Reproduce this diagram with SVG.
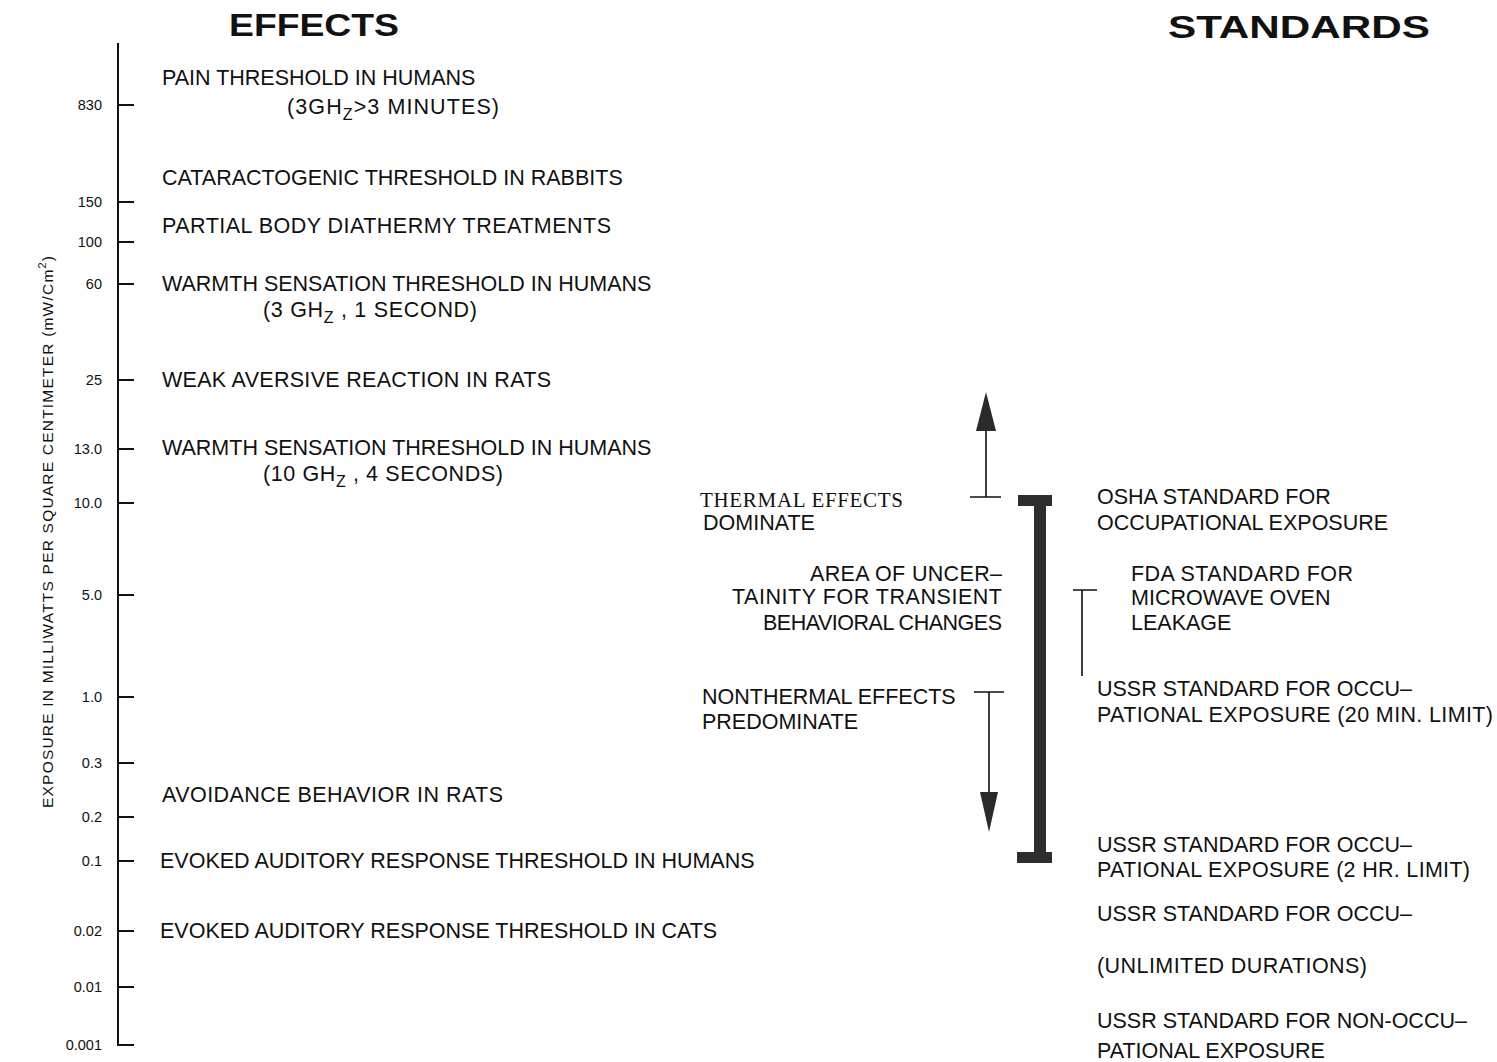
<svg xmlns="http://www.w3.org/2000/svg" width="1497" height="1062" viewBox="0 0 1497 1062">
  <style>
    .t { font-family: "Liberation Sans", Arial, sans-serif; font-size: 21.5px; fill: #111; }
    .ts { font-family: "Liberation Serif", "Times New Roman", serif; font-size: 21px; fill: #111; }
    .sub { font-size: 16px; }
    .hd { font-family: "Liberation Sans", Arial, sans-serif; font-size: 31px; font-weight: bold; fill: #111; }
    .tick { font-family: "Liberation Sans", Arial, sans-serif; font-size: 14.5px; fill: #111; text-anchor: end; }
    .ax { font-family: "Liberation Sans", Arial, sans-serif; font-size: 15.5px; fill: #111; }
    .ln { stroke: #111; stroke-width: 2; fill: none; }
    .thin { stroke: #111; stroke-width: 1.6; fill: none; }
    .bar { fill: #2e2e2e; }
    .head { fill: #2a2a2a; }
  </style>
  <rect width="1497" height="1062" fill="#ffffff"/>

  <!-- column headings -->
  <text class="hd" x="229" y="36" textLength="170" lengthAdjust="spacingAndGlyphs">EFFECTS</text>
  <text class="hd" x="1168" y="38" textLength="262" lengthAdjust="spacingAndGlyphs">STANDARDS</text>

  <!-- exposure axis -->
  <g id="axis">
    <path class="ln" d="M118 43 V1045 H134"/>
    <path class="ln" d="M118 105 H134 M118 202 H134 M118 242 H134 M118 284 H134 M118 380 H134 M118 449 H134 M118 503 H134 M118 595 H134 M118 697 H134 M118 763 H134 M118 817 H134 M118 861 H134 M118 931 H134 M118 987 H134"/>
    <text class="tick" x="102" y="110">830</text>
    <text class="tick" x="102" y="207">150</text>
    <text class="tick" x="102" y="247">100</text>
    <text class="tick" x="102" y="289">60</text>
    <text class="tick" x="102" y="385">25</text>
    <text class="tick" x="102" y="454">13.0</text>
    <text class="tick" x="102" y="508">10.0</text>
    <text class="tick" x="102" y="600">5.0</text>
    <text class="tick" x="102" y="702">1.0</text>
    <text class="tick" x="102" y="768">0.3</text>
    <text class="tick" x="102" y="822">0.2</text>
    <text class="tick" x="102" y="866">0.1</text>
    <text class="tick" x="102" y="936">0.02</text>
    <text class="tick" x="102" y="992">0.01</text>
    <text class="tick" x="102" y="1050">0.001</text>
    <text class="ax" transform="rotate(-90)" x="-808" y="53" textLength="552" lengthAdjust="spacing">EXPOSURE IN MILLIWATTS PER SQUARE CENTIMETER (mW/Cm<tspan dy="-7" font-size="11">2</tspan><tspan dy="7">)</tspan></text>
  </g>

  <!-- biological effects -->
  <g id="effects">
    <text class="t" x="162" y="85">PAIN THRESHOLD IN HUMANS</text>
    <text class="t" x="287" y="114" textLength="212" lengthAdjust="spacing">(3GH<tspan class="sub" dy="6">Z</tspan><tspan dy="-6">&gt;3 MINUTES)</tspan></text>
    <text class="t" x="162" y="185">CATARACTOGENIC THRESHOLD IN RABBITS</text>
    <text class="t" x="162" y="233" textLength="449" lengthAdjust="spacing">PARTIAL BODY DIATHERMY TREATMENTS</text>
    <text class="t" x="162" y="291">WARMTH SENSATION THRESHOLD IN HUMANS</text>
    <text class="t" x="263" y="317" textLength="214" lengthAdjust="spacing">(3 GH<tspan class="sub" dy="6">Z</tspan><tspan dy="-6"> ,  1 SECOND)</tspan></text>
    <text class="t" x="162" y="387" textLength="389" lengthAdjust="spacing">WEAK AVERSIVE REACTION IN RATS</text>
    <text class="t" x="162" y="455">WARMTH SENSATION THRESHOLD IN HUMANS</text>
    <text class="t" x="263" y="481" textLength="240" lengthAdjust="spacing">(10 GH<tspan class="sub" dy="6">Z</tspan><tspan dy="-6"> ,  4 SECONDS)</tspan></text>
    <text class="t" x="162" y="802" textLength="341" lengthAdjust="spacing">AVOIDANCE BEHAVIOR IN RATS</text>
    <text class="t" x="160" y="868">EVOKED AUDITORY RESPONSE THRESHOLD IN HUMANS</text>
    <text class="t" x="160" y="938">EVOKED AUDITORY RESPONSE THRESHOLD IN CATS</text>
  </g>

  <!-- thermal / nonthermal zones -->
  <g id="zones">
    <text class="ts" x="700" y="507" textLength="203" lengthAdjust="spacing">THERMAL  EFFECTS</text>
    <text class="t" x="703" y="530">DOMINATE</text>
    <text class="t" x="1002" y="581" text-anchor="end" textLength="192" lengthAdjust="spacing">AREA OF UNCER–</text>
    <text class="t" x="1002" y="604" text-anchor="end" textLength="270" lengthAdjust="spacing">TAINITY FOR TRANSIENT</text>
    <text class="t" x="1002" y="630" text-anchor="end" textLength="239" lengthAdjust="spacing">BEHAVIORAL CHANGES</text>
    <text class="t" x="702" y="704">NONTHERMAL EFFECTS</text>
    <text class="t" x="702" y="729">PREDOMINATE</text>
  </g>

  <!-- range markers -->
  <g id="connectors">
    <path class="thin" d="M970 497 H1001 M986 497 V428"/>
    <polygon class="head" points="986,392 996,431 976,431"/>
    <path class="thin" d="M974 692 H1004 M989 692 V796"/>
    <polygon class="head" points="989,832 998,792 980,792"/>
    <path class="thin" d="M1073 590 H1097 M1082 590 V676"/>
  </g>

  <!-- uncertainty bar -->
  <g id="uncertainty-bar">
    <rect class="bar" x="1018" y="495" width="34" height="11"/>
    <rect class="bar" x="1034" y="495" width="12" height="367"/>
    <rect class="bar" x="1017" y="852" width="35" height="11"/>
  </g>

  <!-- exposure standards -->
  <g id="standards">
    <text class="t" x="1097" y="504">OSHA STANDARD FOR</text>
    <text class="t" x="1097" y="530">OCCUPATIONAL EXPOSURE</text>
    <text class="t" x="1131" y="581" textLength="222" lengthAdjust="spacing">FDA STANDARD FOR</text>
    <text class="t" x="1131" y="605">MICROWAVE OVEN</text>
    <text class="t" x="1131" y="630">LEAKAGE</text>
    <text class="t" x="1097" y="696">USSR STANDARD FOR OCCU–</text>
    <text class="t" x="1097" y="722" textLength="396" lengthAdjust="spacing">PATIONAL EXPOSURE (20 MIN. LIMIT)</text>
    <text class="t" x="1097" y="852">USSR STANDARD FOR OCCU–</text>
    <text class="t" x="1097" y="877" textLength="373" lengthAdjust="spacing">PATIONAL EXPOSURE (2 HR. LIMIT)</text>
    <text class="t" x="1097" y="921">USSR STANDARD FOR OCCU–</text>
    <text class="t" x="1097" y="973" textLength="270" lengthAdjust="spacing">(UNLIMITED DURATIONS)</text>
    <text class="t" x="1097" y="1028">USSR STANDARD FOR NON-OCCU–</text>
    <text class="t" x="1097" y="1058">PATIONAL EXPOSURE</text>
  </g>
</svg>
